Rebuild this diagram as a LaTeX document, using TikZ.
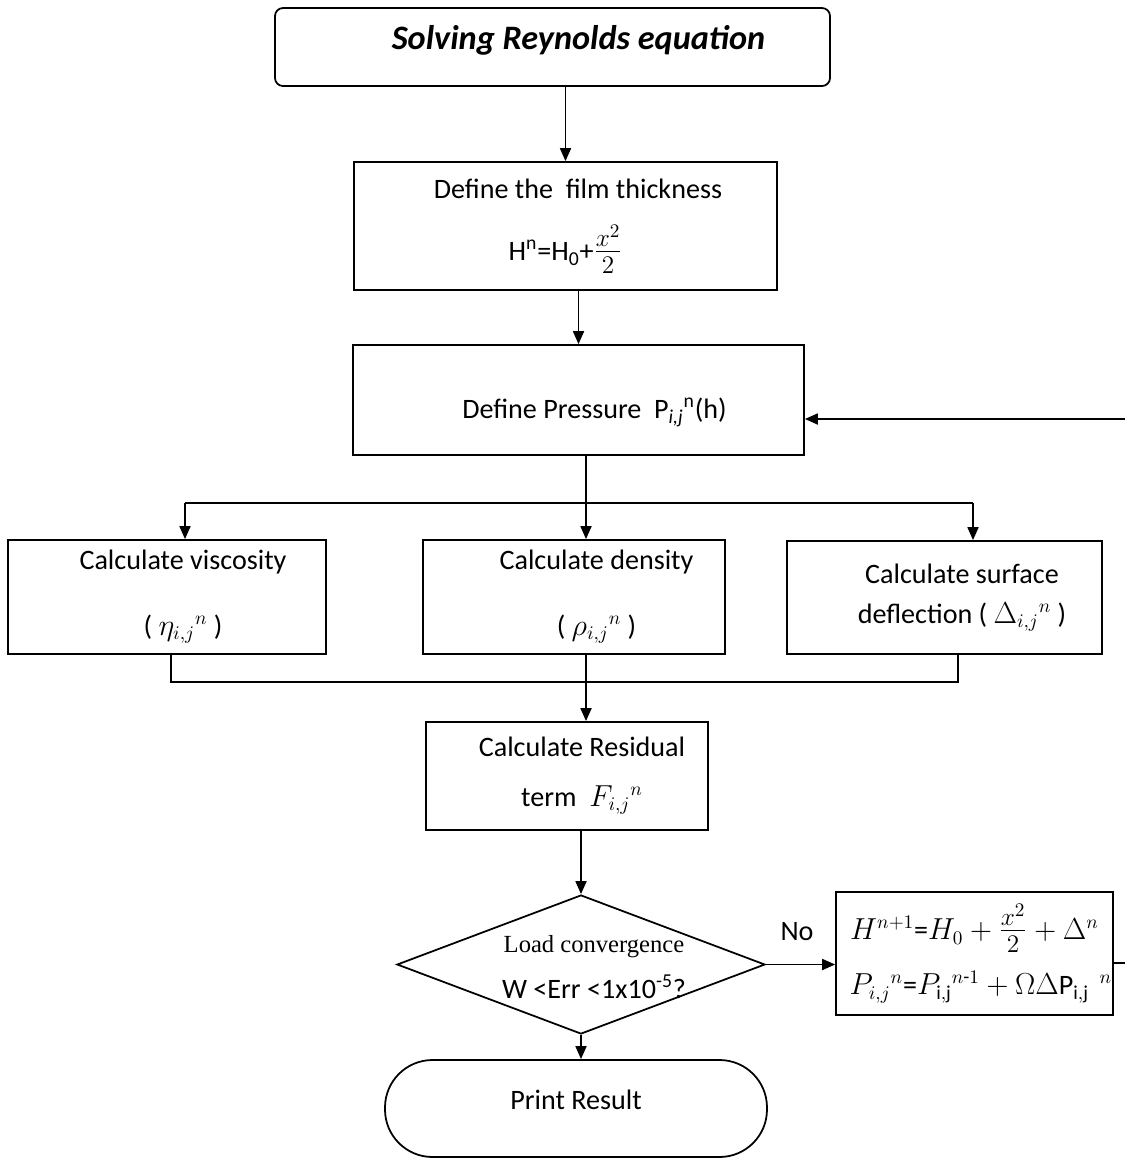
\documentclass[tikz,border=0pt]{standalone}
\usepackage{amsmath}
\usepackage{fontspec}
\setmainfont{Carlito}
\newfontfamily\cambriaish{Liberation Serif}
\usetikzlibrary{shapes.geometric,arrows.meta}

\begin{document}
\begin{tikzpicture}[
    font=\fontsize{16}{19.2}\selectfont,
    line width=1pt,
    box/.style={draw, rectangle, align=center, inner sep=0pt},
    arr/.style={-{Triangle[length=0.26cm,width=0.22cm]}}
    ]
        \useasboundingbox (0,0) rectangle (22.5,-23.34);
        \node[box, rounded corners=0.16cm, minimum width=11.1cm, minimum height=1.56cm] (n1) at (11.05,-0.94) {\hspace*{1.04cm}\fontsize{19.5}{22}\selectfont\bfseries\itshape Solving Reynolds equation\rule[-0.4cm]{0pt}{0.4cm}};
        \node[box, minimum width=8.46cm, minimum height=2.56cm] (n2) at (11.31,-4.52) {\hspace*{0.5cm}Define the\ \ film thickness\\[14pt] H\textsuperscript{n}=H\textsubscript{0}+{\fontsize{22}{22}\selectfont$\frac{x^2}{2}$}};
        \node[box, minimum width=9.02cm, minimum height=2.2cm] (n3) at (11.57,-8.0) {\hspace*{0.64cm}\rule{0pt}{0.91cm}Define Pressure\ \ P\textsubscript{\itshape i,j}\textsuperscript{n}(h)};
        \node[box, minimum width=6.36cm, minimum height=2.28cm] (n4) at (3.34,-11.94) {\hspace*{0.64cm}Calculate viscosity\\[18pt] \hspace*{0.64cm}( $\eta_{i,j}{}^{n}$ )};
        \node[box, minimum width=6.04cm, minimum height=2.28cm] (n5) at (11.48,-11.94) {\hspace*{0.9cm}Calculate density\\[18pt] \hspace*{0.9cm}( $\rho_{i,j}{}^{n}$ )};
        \node[box, minimum width=6.3cm, minimum height=2.26cm] (n6) at (18.89,-11.95) {\hspace*{0.7cm}Calculate surface\\[3.5pt] \hspace*{0.7cm}deflection ( $\Delta_{i,j}{}^{n}$ )};
        \node[box, minimum width=5.64cm, minimum height=2.16cm] (n7) at (11.34,-15.52) {\hspace*{0.6cm}Calculate Residual\\[9pt] \hspace*{0.6cm}term\ \ $F_{i,j}{}^{n}$};
        \node[draw, diamond, inner sep=0pt, minimum width=7.36cm, minimum height=2.78cm] (n8) at (11.62,-19.29) {};
        \node[align=center, inner sep=0pt] (n8t) at (11.88,-19.35) {{\cambriaish\fontsize{14}{16}\selectfont Load convergence}\\[7pt] W <Err <1x10\textsuperscript{-5}?};
        \node[box, minimum width=5.54cm, minimum height=2.46cm] (n9) at (19.49,-19.07) {$H^{n+1}$=$H_0+{}${\fontsize{22}{22}\selectfont$\frac{x^2}{2}$}${}+\Delta^n$\\[10pt] \ \ $P_{i,j}{}^{n}$=$P_{\mathrm{i,j}}{}^{n\text{-}1}+\Omega\Delta\mathrm{P}_{\mathrm{i,j}}{}^{\;\;n}$};
        \node[box, rounded corners=0.95cm, minimum width=7.64cm, minimum height=1.94cm] (n10) at (11.52,-22.17) {Print Result\rule[-0.36cm]{0pt}{0.36cm}};
        \node (n11) at (15.94,-18.64) {No};
        \coordinate (split) at (11.72,-10.06);
        \coordinate (sl) at (3.7,-10.06);
        \coordinate (sr) at (19.46,-10.06);
        \coordinate (jl) at (3.42,-13.64);
        \coordinate (jm) at (11.72,-13.64);
        \coordinate (jr) at (19.16,-13.64);
        \coordinate (back1) at (22.5,-19.26);
        \coordinate (back2) at (22.5,-8.38);
        \draw[arr] (n2 |- n1.south) -- (n2.north);
        \draw[arr] (n2.south -| n3) -- (n3.north);
        \draw (n3.south -| split) -- (split);
        \draw (sl) -- (sr);
        \draw[arr] (sl) -- (sl |- n4.north);
        \draw[arr] (split) -- (split |- n5.north);
        \draw[arr] (sr) -- (sr |- n6.north);
        \draw (n4.south -| jl) -- (jl) -- (jr) -- (n6.south -| jr);
        \draw (n5.south -| jm) -- (jm);
        \draw[arr] (jm) -- (jm |- n7.north);
        \draw[arr] (n7.south -| n8) -- (n8.north);
        \draw[arr] (n8.east) -- (n8.east -| n9.west);
        \draw (n9.east |- back1) -- (back1);
        \draw[arr] (back2) -- (n3.east |- back2);
        \draw[arr] (n8.south) -- (n8.south |- n10.north);
    \end{tikzpicture}
\end{document}
